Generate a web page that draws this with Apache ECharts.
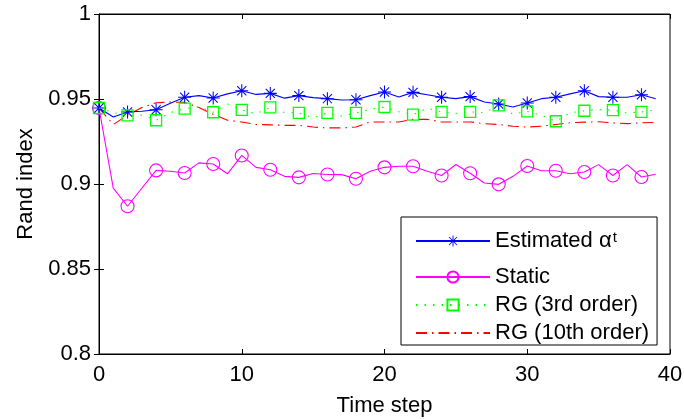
<!DOCTYPE html>
<html>
<head>
<meta charset="utf-8">
<script src="https://cdn.jsdelivr.net/npm/echarts@6/dist/echarts.min.js"></script>
<style>
  html, body { margin: 0; padding: 0; background: #fff; }
  #main { width: 684px; height: 419px; }
</style>
</head>
<body>
<div id="main"></div>
<script>
// time steps 0..39
var steps = [];
for (var i = 0; i < 40; i++) steps.push(i);

var estimated = [0.9447, 0.9394, 0.9424, 0.9428, 0.9437, 0.9475, 0.951, 0.952, 0.9506, 0.953,
  0.9549, 0.9527, 0.9533, 0.9505, 0.952, 0.9508, 0.9502, 0.9494, 0.9496, 0.952,
  0.9541, 0.9512, 0.9539, 0.9525, 0.951, 0.9502, 0.9514, 0.9482, 0.9471, 0.9453,
  0.9476, 0.9502, 0.951, 0.953, 0.9549, 0.9514, 0.951, 0.951, 0.9525, 0.9502];
var staticRI = [0.9447, 0.8976, 0.8869, 0.8975, 0.908, 0.9075, 0.9065, 0.9124, 0.9118, 0.906,
  0.9168, 0.9098, 0.9084, 0.9045, 0.9039, 0.9062, 0.9056, 0.9055, 0.9031, 0.9075,
  0.9098, 0.9104, 0.9104, 0.9075, 0.905, 0.9115, 0.9063, 0.9006, 0.8998, 0.9045,
  0.9106, 0.9078, 0.9078, 0.906, 0.9071, 0.9114, 0.905, 0.9114, 0.9041, 0.9057];
var rg3 = [0.9447, 0.942, 0.9404, 0.9405, 0.9375, 0.942, 0.9443, 0.9455, 0.9422, 0.947,
  0.9436, 0.9413, 0.9451, 0.942, 0.9418, 0.939, 0.9418, 0.94, 0.9418, 0.944,
  0.9453, 0.9425, 0.9408, 0.9445, 0.9424, 0.9415, 0.9424, 0.942, 0.9463, 0.941,
  0.9427, 0.9404, 0.9369, 0.9418, 0.9431, 0.9438, 0.9435, 0.9418, 0.9424, 0.9435];
var rg10 = [0.9447, 0.935, 0.9405, 0.945, 0.9478, 0.9482, 0.948, 0.945, 0.941, 0.9375,
  0.9365, 0.935, 0.9348, 0.9345, 0.9345, 0.9335, 0.933, 0.933, 0.9335, 0.9365,
  0.9365, 0.9365, 0.938, 0.938, 0.9365, 0.9365, 0.9365, 0.9355, 0.935, 0.934,
  0.9335, 0.934, 0.935, 0.936, 0.9364, 0.9366, 0.936, 0.9355, 0.936, 0.9362];

var xTicks = [0, 10, 20, 30, 40];
var yTicks = [0.8, 0.85, 0.9, 0.95, 1];

var FONT = 'Liberation Sans';
var FS = 22;
// asterisk marker (filled bars)
var STAR = 'path://M9.2 0L10.8 0L10.8 20L9.2 20Z M0 9.2L20 9.2L20 10.8L0 10.8Z ' +
  'M3.5 2.36L17.63 16.5L16.5 17.63L2.36 3.5Z M17.63 3.5L3.5 17.63L2.36 16.5L16.5 2.36Z';

function pts(vals) {
  // markers only every second step
  return steps.map(function (t, k) {
    var d = { value: [t, vals[k]] };
    if (k % 2 == 1) d.symbol = 'none';
    return d;
  });
}

var chart = echarts.init(document.getElementById('main'), null, { renderer: 'canvas' });

var axisCommon = {
  axisLine: { show: true, lineStyle: { color: '#000', width: 1 } },
  axisTick: { show: true, inside: true, length: 5, lineStyle: { color: '#000' } },
  splitLine: { show: false }
};

var option = {
  animation: false,
  backgroundColor: '#fff',
  grid: {
    left: 99, right: 14, top: 14, bottom: 65, outerBoundsMode: 'none',
    show: true, borderColor: '#000', borderWidth: 1
  },
  legend: {
    orient: 'vertical',
    left: 401,
    top: 217,
    padding: [13, 8, 1, 14],
    itemWidth: 74,
    itemHeight: 14,
    itemGap: 6,
    backgroundColor: '#fff',
    borderColor: '#000',
    borderWidth: 1,
    borderRadius: 0,
    selectedMode: false,
    data: ['Estimated', 'Static', 'RG (3rd order)',
      { name: 'RG (10th order)', itemStyle: { color: 'rgba(0,0,0,0)', borderWidth: 0 } }],
    formatter: function (name) {
      if (name == 'Estimated') return '{n|Estimated α}{s|t}';
      return '{n|' + name + '}';
    },
    textStyle: {
      color: '#000',
      fontFamily: FONT,
      fontSize: FS,
      rich: {
        n: { fontFamily: FONT, fontSize: FS, color: '#000', lineHeight: 22 },
        s: { fontFamily: FONT, fontSize: 15, color: '#000', verticalAlign: 'top', lineHeight: 10, padding: [0, 0, 15, 1] }
      }
    }
  },
  xAxis: [
    Object.assign({
      type: 'value', min: 0, max: 40, interval: 10, position: 'bottom',
      name: 'Time step', nameLocation: 'middle', nameGap: 41,
      nameTextStyle: { fontFamily: FONT, fontSize: FS, color: '#000' },
      axisLabel: {
        margin: 10, fontFamily: FONT, fontSize: FS, color: '#000',
        customValues: xTicks
      }
    }, axisCommon),
    Object.assign({
      type: 'value', min: 0, max: 40, interval: 10, position: 'top',
      axisLabel: { show: false }
    }, axisCommon)
  ],
  yAxis: [
    Object.assign({
      type: 'value', min: 0.8, max: 1, interval: 0.05, position: 'left',
      name: 'Rand index', nameLocation: 'middle', nameGap: 62, nameRotate: 90,
      nameTextStyle: { fontFamily: FONT, fontSize: FS, color: '#000' },
      axisLabel: {
        margin: 8, fontFamily: FONT, fontSize: FS, color: '#000',
        formatter: function (v) { return String(+v.toFixed(2)); }
      }
    }, axisCommon),
    Object.assign({
      type: 'value', min: 0.8, max: 1, interval: 0.05, position: 'right',
      axisLabel: { show: false }
    }, axisCommon)
  ],
  series: [
    {
      name: 'Estimated', type: 'line', data: pts(estimated),
      symbol: STAR, symbolSize: 13, showAllSymbol: true,
      lineStyle: { color: '#0000ff', width: 1.1 },
      itemStyle: { color: '#0000ff', borderWidth: 0 },
      emphasis: { disabled: true }, z: 4
    },
    {
      name: 'Static', type: 'line', data: pts(staticRI),
      symbol: 'circle', symbolSize: 13, showAllSymbol: true,
      lineStyle: { color: '#ff00ff', width: 1.1 },
      itemStyle: { color: 'rgba(255,255,255,0)', borderColor: '#ff00ff', borderWidth: 1.1 },
      emphasis: { disabled: true }, z: 3
    },
    {
      name: 'RG (3rd order)', type: 'line', data: pts(rg3),
      symbol: 'rect', symbolSize: 11, showAllSymbol: true,
      lineStyle: { color: '#00ff00', width: 1.1, type: [1.5, 7] },
      itemStyle: { color: 'rgba(255,255,255,0)', borderColor: '#00ff00', borderWidth: 1.3 },
      emphasis: { disabled: true }, z: 5
    },
    {
      name: 'RG (10th order)', type: 'line', data: pts(rg10), symbol: 'none',
      lineStyle: { color: '#ff0000', width: 1.1, type: [11, 5, 1.5, 5] },
      itemStyle: { color: '#ff0000' },
      emphasis: { disabled: true }, z: 2
    }
  ]
};
chart.setOption(option);
</script>
</body>
</html>
